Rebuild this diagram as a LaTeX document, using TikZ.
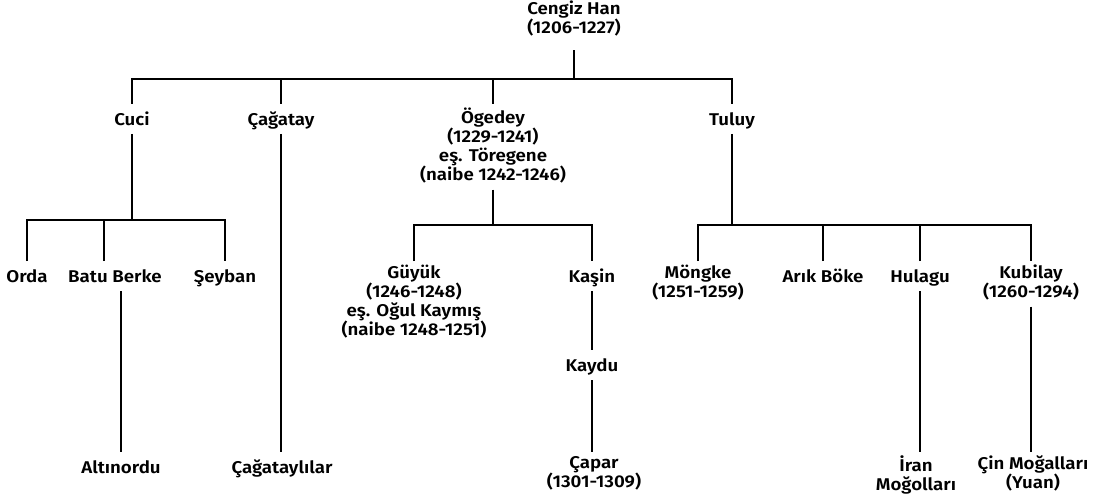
\documentclass[tikz,border=0pt]{standalone}
\usepackage{fontspec}
\setmainfont{Fira Sans}[BoldFont={* SemiBold},FakeStretch=1.1]
\begin{document}
\begin{tikzpicture}[x=1pt,y=-1pt,line width=1.6pt,
    person/.style={font=\fontsize{17}{19}\selectfont\bfseries,align=center,anchor=north,
      inner sep=0pt,outer sep=4pt,
      execute at begin node={\rule[-5pt]{0pt}{22pt}},
      execute at end node={\rule[-5pt]{0pt}{22pt}}}]
\useasboundingbox (0,0) rectangle (1100,500);
\node[person,outer sep=12pt,font=\fontsize{17}{17}\selectfont\bfseries] (cengiz) at (574,-11.5) {Cengiz Han\\(1206-1227)};
\node[person] (cuci) at (132,104) {Cuci};
\node[person] (cagatay) at (281,104) {Çağatay};
\node[person] (ogedey) at (493,104) {Ögedey\\(1229-1241)\\eş. Töregene\\(naibe 1242-1246)};
\node[person] (tuluy) at (732,104) {Tuluy};
\node[person] (orda) at (27,261) {Orda};
\node[person] (batu) at (115,261) {Batu Berke};
\node[person] (seyban) at (225,261) {Şeyban};
\node[person] (guyuk) at (414,261) {Güyük\\(1246-1248)\\eş. Oğul Kaymış\\(naibe 1248-1251)};
\node[person] (kasin) at (592,261) {Kaşin};
\node[person] (kaydu) at (592,350) {Kaydu};
\node[person] (mongke) at (698,261) {Möngke\\(1251-1259)};
\node[person] (arik) at (823,261) {Arık Böke};
\node[person] (hulagu) at (920,261) {Hulagu};
\node[person] (kubilay) at (1031,261) {Kubilay\\(1260-1294)};
\node[person] (altinordu) at (121,452) {Altınordu};
\node[person] (cagataylilar) at (282,452) {Çağataylılar};
\node[person] (capar) at (594,452) {Çapar\\(1301-1309)};
\node[person] (iran) at (916,452) {İran\\Moğolları};
\node[person] (cin) at (1033,452) {Çin Moğalları\\(Yuan)};
\coordinate (j0) at (574,79);
\coordinate (j1) at (132,220);
\coordinate (j2) at (493,225);
\coordinate (j3) at (732,225);
\draw (cengiz) -- (j0);
\draw (cuci.north) |- (j0) -| (tuluy.north);
\foreach \n in {cagatay,ogedey} \draw (\n.north) -- (\n.north |- j0);
\draw (cuci) -- (j1);
\draw (orda.north) |- (j1) -| (seyban.north);
\draw ([xshift=-11pt]batu.north) -- ([xshift=-11pt]batu.north |- j1);
\draw (batu.south -| altinordu.north) -- (altinordu.north);
\draw (cagatay.south) -- (cagatay.south |- cagataylilar.north);
\draw (ogedey) -- (j2);
\draw (guyuk.north) |- (j2) -| (kasin.north);
\draw (kasin) -- (kaydu);
\draw (kaydu.south) -- (kaydu.south |- capar.north);
\draw (tuluy) -- (j3);
\draw (mongke.north) |- (j3) -| (kubilay.north);
\foreach \n in {arik,hulagu} \draw (\n.north) -- (\n.north |- j3);
\draw (hulagu.south) -- (hulagu.south |- iran.north);
\draw (kubilay.south) -- (kubilay.south |- cin.north);
\end{tikzpicture}
\end{document}
